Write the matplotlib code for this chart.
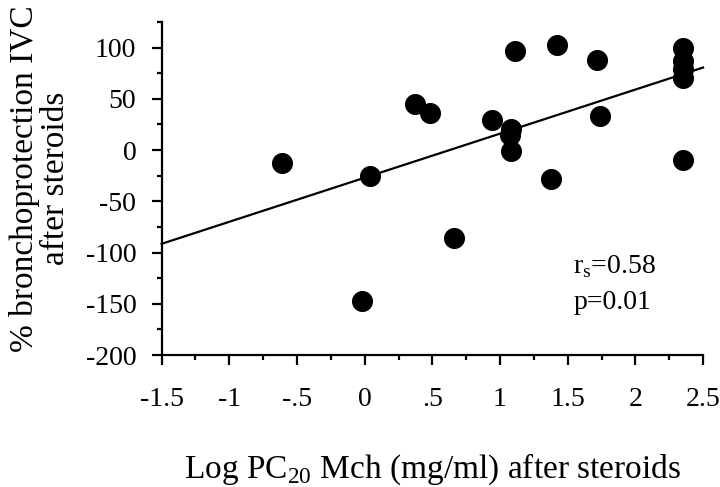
import matplotlib.pyplot as plt
from matplotlib.ticker import MultipleLocator

plt.rcParams['font.family'] = ['Liberation Serif', 'DejaVu Serif']
plt.rcParams['mathtext.fontset'] = 'custom'
plt.rcParams['mathtext.rm'] = 'Liberation Serif'
plt.rcParams['axes.unicode_minus'] = False

# log PC20 after steroids vs % bronchoprotection
log_pc20 = [-0.61, 0.04, 0.37, 0.48, 0.66, 0.94, 1.08, 1.07, 1.08, 1.11,
            1.38, 1.42, 1.72, 1.74, 2.35, 2.35, 2.35, 2.35, 2.35, -0.02]
protection = [-13, -25, 45, 36, -86, 29, 21, 15, -1, 97,
              -28, 102, 88, 33, 100, 87, 79, 70, -10, -147]

# regression line (intercept, slope)
fit_b0, fit_b1 = -27, 43
fit_x = [-1.5, 2.5]

xticks = [-1.5, -1, -0.5, 0, 0.5, 1, 1.5, 2, 2.5]
xticklabels = ['-1.5', '-1', '-.5', '0', '.5', '1', '1.5', '2', '2.5']
yticks = [-200, -150, -100, -50, 0, 50, 100]

fig = plt.figure(figsize=(7.2, 4.87), dpi=100)
ax = fig.add_axes([0.2245, 0.271, 0.752, 0.684])

ax.plot(fit_x, [fit_b0 + fit_b1 * x for x in fit_x], color='black', lw=1.6,
        clip_on=False)
ax.scatter(log_pc20, protection, s=200, color='black', zorder=3, clip_on=False)

ax.set_xlim(-1.5, 2.5)
ax.set_ylim(-200, 125)
ax.set_xticks(xticks)
ax.set_xticklabels(xticklabels)
ax.set_yticks(yticks)
ax.xaxis.set_minor_locator(MultipleLocator(0.25))
ax.yaxis.set_minor_locator(MultipleLocator(25))

for s in ['top', 'right']:
    ax.spines[s].set_visible(False)
for s in ['left', 'bottom']:
    ax.spines[s].set_linewidth(1.6)

ax.tick_params(which='major', direction='out', length=7.2, width=1.6,
               labelsize=20)
ax.tick_params(which='minor', direction='out', length=3.6, width=1.6)
ax.tick_params(axis='x', pad=16)
ax.tick_params(axis='y', pad=11)

ax.set_xlabel('Log PC$_{\\mathregular{20}}$ Mch (mg/ml) after steroids',
              fontsize=24, labelpad=28)
ax.set_ylabel('% bronchoprotection IVC\nafter steroids', fontsize=24,
              linespacing=1.0)
ax.yaxis.set_label_coords(-0.168, 0.53)

ax.text(1.54, -120, 'r$_\\mathregular{s}$=0.58', fontsize=20)
ax.text(1.54, -155, 'p=0.01', fontsize=20)

fig.savefig('out.png', dpi=100)
